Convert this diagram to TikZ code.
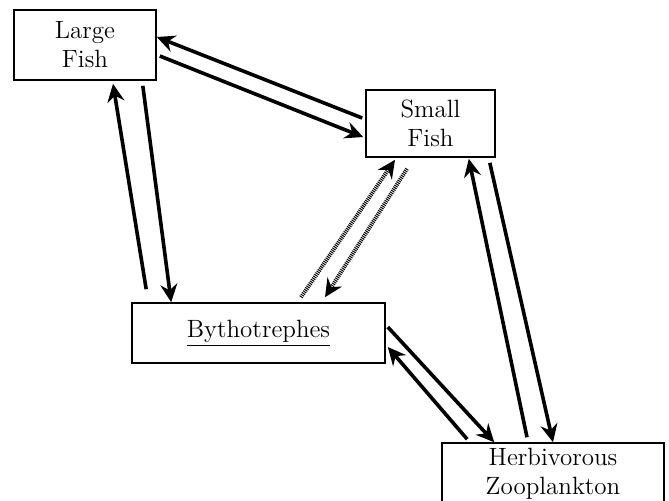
\documentclass[tikz,border=0pt]{standalone}
\usepackage{tikz}
\usetikzlibrary{arrows.meta}

\begin{document}
\begin{tikzpicture}[
    x=0.5pt, y=-0.5pt,
    box/.style={draw, rectangle, line width=0.8pt, align=center, inner sep=2pt, font=\fontsize{12.5}{14.5}\selectfont},
    arrow/.style={-{Stealth[length=9pt, width=8.5pt, inset=3pt]}, line width=1.8pt},
    dotarrow/.style={arrow, line width=2pt, dash pattern=on 0.5pt off 0.5pt}
]
\useasboundingbox (0,0) rectangle (669,500);

% Nodes
\node[box, minimum width=71pt, minimum height=35pt] (large) at (85,45) {Large\\Fish};
\node[box, minimum width=64.5pt, minimum height=33.5pt] (small) at (430.5,123.5) {Small\\Fish};
\node[box, minimum width=126.5pt, minimum height=30pt] (byth) at (258.5,333) {\underline{Bythotrephes}};
\node[box, minimum width=111pt, minimum height=31pt] (herb) at (553,474) {Herbivorous\\Zooplankton};

% Arrows
\draw[arrow] ([xshift=-1.5pt, yshift=2.75pt]small.west) -- ([yshift=4pt]large.east);
\draw[arrow] ([xshift=1.5pt, yshift=-5.5pt]large.east) -- ([xshift=-1pt, yshift=-6.75pt]small.west);
\draw[arrow] ([xshift=7.5pt, yshift=6.5pt]byth.north west) -- ([xshift=14pt, yshift=-1.5pt]large.south);
\draw[arrow] ([xshift=-7pt, yshift=-2.5pt]large.south east) -- ([xshift=20pt]byth.north west);
\draw[dotarrow] ([xshift=21.25pt, yshift=2.5pt]byth.north) -- ([xshift=-17.75pt, yshift=-1pt]small.south);
\draw[dotarrow] ([xshift=-11.75pt, yshift=-5.5pt]small.south) -- ([xshift=33.25pt, yshift=2.5pt]byth.north);
\draw[arrow] ([xshift=1pt, yshift=3pt]byth.east) -- ([xshift=26.5pt]herb.north west);
\draw[arrow] ([xshift=13pt, yshift=1.5pt]herb.north west) -- ([xshift=1pt, yshift=-7pt]byth.east);
\draw[arrow] ([xshift=-13pt, yshift=2.5pt]herb.north) -- ([xshift=-13.5pt, yshift=-0.5pt]small.south east);
\draw[arrow] ([xshift=-3pt, yshift=-2.5pt]small.south east) -- (herb.north);

\end{tikzpicture}
\end{document}
